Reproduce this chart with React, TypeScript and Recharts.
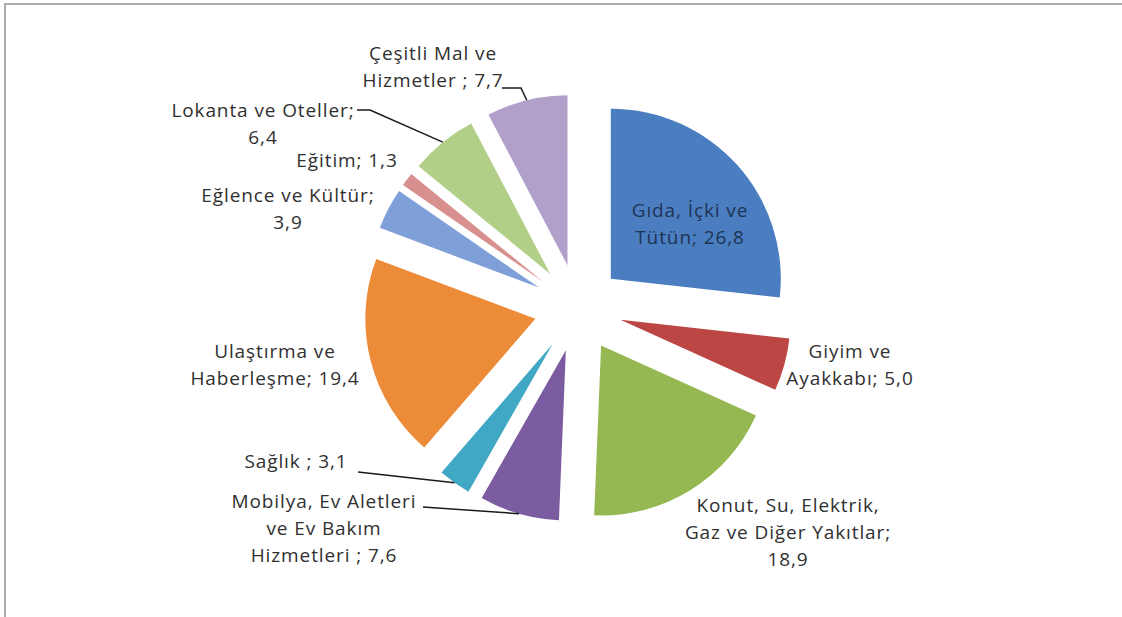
import React from 'react';
import { PieChart, Pie, Cell, Sector } from 'recharts';

// harcama grupları ve ağırlıkları (%)
const categories = [
  'Gıda, İçki ve Tütün',
  'Giyim ve Ayakkabı',
  'Konut, Su, Elektrik, Gaz ve Diğer Yakıtlar',
  'Mobilya, Ev Aletleri ve Ev Bakım Hizmetleri',
  'Sağlık',
  'Ulaştırma ve Haberleşme',
  'Eğlence ve Kültür',
  'Eğitim',
  'Lokanta ve Oteller',
  'Çeşitli Mal ve Hizmetler',
];
const weights = [26.8, 5.0, 18.9, 7.6, 3.1, 19.4, 3.9, 1.3, 6.4, 7.7];
const labelLines = [
  ['Gıda, İçki ve', 'Tütün; 26,8'],
  ['Giyim ve', 'Ayakkabı; 5,0'],
  ['Konut, Su, Elektrik,', 'Gaz ve Diğer Yakıtlar;', '18,9'],
  ['Mobilya, Ev Aletleri', 've Ev Bakım', 'Hizmetleri ; 7,6'],
  ['Sağlık  ; 3,1'],
  ['Ulaştırma ve', 'Haberleşme; 19,4'],
  ['Eğlence ve Kültür;', '3,9'],
  ['Eğitim; 1,3'],
  ['Lokanta ve Oteller;', '6,4'],
  ['Çeşitli Mal ve', 'Hizmetler ; 7,7'],
];
const colors = [
  '#4a7ec0', '#bc4643', '#95b852', '#7b5ca0', '#40a8c4',
  '#ec8b38', '#7f9fd9', '#d8908e', '#b2cf88', '#b1a1ca',
];

const data = categories.map((name, i) => ({ name, value: weights[i] }));

// layout
const W = 1122;
const H = 617;
const CX = 573;
const CY = 303;
const R = 170;
const EXPLODE = 44;
const LINE_H = 27;
const RADIAN = Math.PI / 180;

// label anchor: centre x, first baseline y, optional leader start / elbow
const labelLayout: { x: number; y: number; from?: [number, number]; elbow?: [number, number] }[] = [
  { x: 690, y: 217 },
  { x: 850, y: 358 },
  { x: 788, y: 512 },
  { x: 324, y: 508, from: [423, 507] },
  { x: 296, y: 468, from: [358, 472] },
  { x: 275, y: 358 },
  { x: 288, y: 202 },
  { x: 347, y: 167 },
  { x: 263, y: 117, from: [357, 110], elbow: [370, 110] },
  { x: 433, y: 60, from: [502, 88], elbow: [521, 88] },
];

const ExplodedSector = (props: any) => {
  const { cx, cy, midAngle } = props;
  const ox = cx + EXPLODE * Math.cos(-midAngle * RADIAN);
  const oy = cy + EXPLODE * Math.sin(-midAngle * RADIAN);
  return <Sector {...props} cx={ox} cy={oy} stroke="none" />;
};

const renderLabel = (props: any) => {
  const { cx, cy, midAngle, outerRadius, index } = props;
  const spot = labelLayout[index];
  const lines = labelLines[index];
  const dark = index === 0;
  let leader = null;
  if (spot.from) {
    // ends on the arc middle of the exploded slice
    const ex = cx + (outerRadius + EXPLODE) * Math.cos(-midAngle * RADIAN);
    const ey = cy + (outerRadius + EXPLODE) * Math.sin(-midAngle * RADIAN);
    const pts = [spot.from, ...(spot.elbow ? [spot.elbow] : []), [ex, ey]]
      .map((p) => p.join(','))
      .join(' ');
    leader = <polyline points={pts} fill="none" stroke="#1a1a1a" strokeWidth={1.5} />;
  }
  return (
    <g key={`lbl-${index}`}>
      {leader}
      <text
        x={spot.x}
        y={spot.y}
        textAnchor="middle"
        fill={dark ? '#1f3453' : '#303030'}
        fontSize={19}
        letterSpacing={0.9}
        fontFamily="'Open Sans', Lato, sans-serif"
      >
        {lines.map((ln, i) => (
          <tspan key={i} x={spot.x} y={spot.y + i * LINE_H}>
            {ln}
          </tspan>
        ))}
      </text>
    </g>
  );
};

export default function App() {
  return (
    <div style={{ position: 'absolute', left: 0, top: 0, width: W, height: H, background: '#fff', overflow: 'hidden' }}>
      <div
        style={{
          position: 'absolute',
          left: 4,
          top: 3,
          width: W + 40,
          height: H + 40,
          borderTop: '2px solid #acacac',
          borderLeft: '2px solid #acacac',
        }}
      />
      <PieChart width={W} height={H} style={{ position: 'absolute', left: 0, top: 0 }}>
        <Pie
          data={data}
          dataKey="value"
          nameKey="name"
          cx={CX}
          cy={CY}
          outerRadius={R}
          startAngle={90}
          endAngle={-270}
          stroke="none"
          shape={ExplodedSector}
          label={renderLabel}
          labelLine={false}
          isAnimationActive={false}
        >
          {data.map((d, i) => (
            <Cell key={d.name} fill={colors[i]} />
          ))}
        </Pie>
      </PieChart>
    </div>
  );
}
